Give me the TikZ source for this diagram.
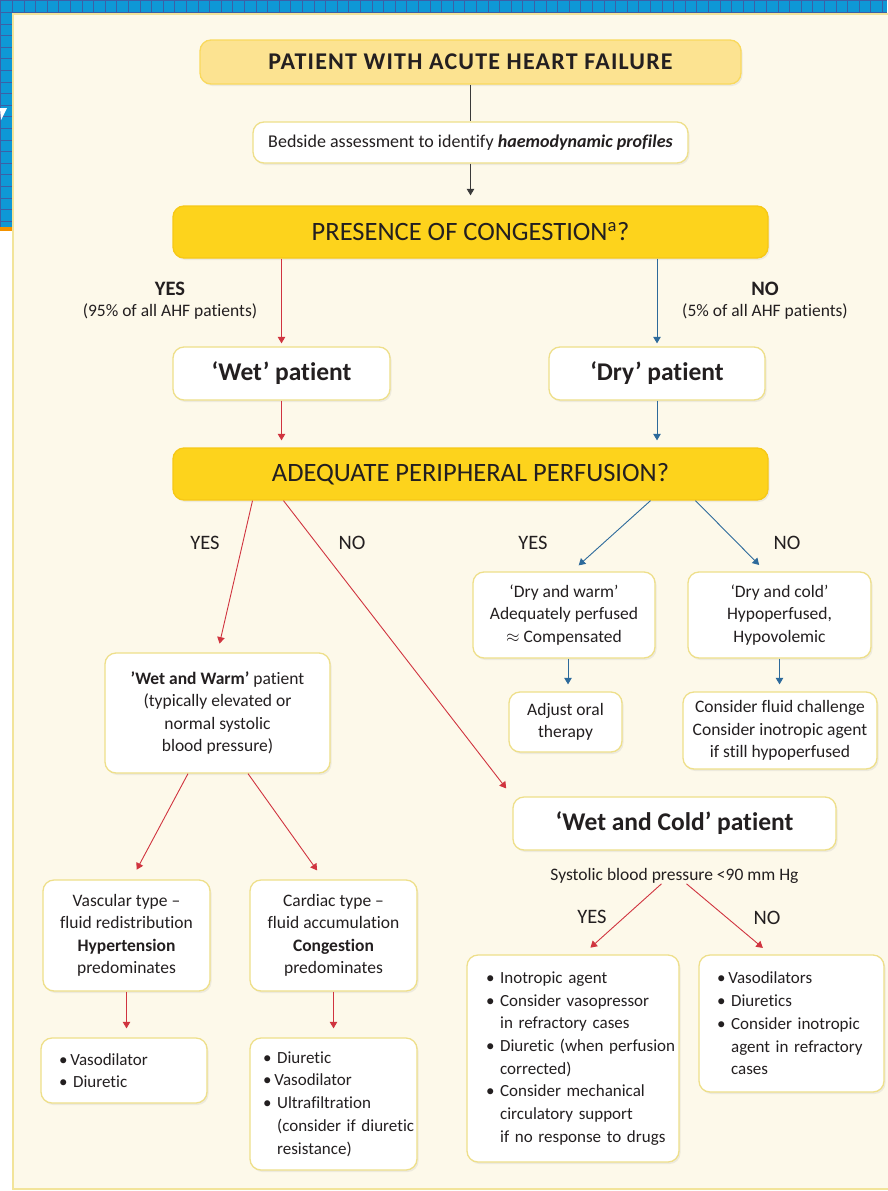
\documentclass[tikz,border=0pt]{standalone}
\usepackage{fontspec}
\setmainfont{Carlito}[RawFeature={-liga;-clig;-calt;-dlig}]
\usepackage{xcolor}
\usepackage{tikz}
\usetikzlibrary{positioning,arrows.meta,shadows,calc}

\definecolor{stripblue}{HTML}{0E98D6}
\definecolor{gridline}{HTML}{3C5FA6}
\definecolor{stripor}{HTML}{F39200}
\definecolor{panelbg}{HTML}{FDF9EA}
\definecolor{paneledge}{HTML}{F2E49A}
\definecolor{boxedge}{HTML}{EEDF8A}
\definecolor{lightgold}{HTML}{FCE391}
\definecolor{gold}{HTML}{FDD31C}
\definecolor{goldedge}{HTML}{F6C817}
\definecolor{redline}{HTML}{D0343F}
\definecolor{blueline}{HTML}{2D6A9B}
\definecolor{greyline}{HTML}{3A3A3A}
\definecolor{ink}{HTML}{231F20}

\newcommand{\fbody}{\fontsize{17.5}{22.5}\selectfont}
\newcommand{\flist}{\fontsize{17}{22.7}\selectfont}
\newcommand{\fhead}{\fontsize{24}{26}\selectfont\addfontfeatures{LetterSpace=5}}
\newcommand{\fquest}{\fontsize{26.5}{28}\selectfont}
\newcommand{\fpat}{\fontsize{25.5}{28}\selectfont}
\newcommand{\fyn}{\fontsize{20.5}{22}\selectfont}
\newcommand{\bl}[1]{\mbox{\textbullet\ #1}}
\newcommand{\cl}[1]{\mbox{\phantom{\textbullet\ }#1}}
\hfuzz=300pt
\hbadness=10000

\begin{document}
\begin{tikzpicture}[
    x=1pt, y=-1pt,
    box/.style={draw=boxedge, line width=1.3pt, rounded corners=11pt, fill=#1,
      align=center, inner sep=0pt, text=ink, font=\fbody,
      drop shadow={shadow xshift=1.5pt, shadow yshift=-2pt, opacity=0.12}},
    box/.default=white,
    question/.style={box=gold, draw=goldedge, font=\fquest,
      minimum width=595, minimum height=52},
    listbox/.style={box, align=left, font=\flist, inner xsep=18pt},
    label/.style={text=ink, font=\fyn, align=center, inner sep=0pt},
    redarr/.style={draw=redline, line width=0.9pt, -{Triangle[width=7.5pt,length=6.5pt]}},
    bluearr/.style={draw=blueline, line width=0.9pt, -{Triangle[width=7.5pt,length=6.5pt]}},
    greyarr/.style={draw=greyline, line width=0.9pt, -{Triangle[width=7.5pt,length=6.5pt]}},
  ]
  \useasboundingbox (0,0) rectangle (887,1191);

  % Blue strip with grid
  \fill[stripblue] (0,0) rectangle (887,227);
  \foreach \gx in {0,...,76} \draw[gridline, line width=0.6pt] ({0.6+11.6*\gx},0) -- ++(0,227);
  \foreach \gy in {0,...,19} \draw[gridline, line width=0.6pt] (0,{0.6+11.6*\gy}) -- ++(887,0);
  \fill[stripor] (0,227) rectangle (13,231);
  \fill[white] (0,231) rectangle (13,1191);
  \fill[white] (0,108) -- (7,108) -- (1,120) -- cycle;

  % Panel
  \draw[fill=panelbg, draw=paneledge, line width=1.5pt] (13,14) rectangle (889,1189);

  % Top of the chart
  \node[box=lightgold, draw=goldedge!70, minimum width=541, minimum height=44,
        font=\fhead\bfseries] (ahf) at (470.5,62) {PATIENT WITH ACUTE HEART FAILURE};
  \node[box, minimum width=435, minimum height=41, font=\fontsize{18}{22}\selectfont] (assess) at (470.5,142.5)
        {Bedside assessment to identify \textbf{\textit{haemodynamic profiles}}};
  \node[question] (cong) at (470.5,232) {PRESENCE OF CONGESTION\textsuperscript{a}?};

  \draw[draw=greyline, line width=0.9pt] (ahf) -- (assess);
  \draw[greyarr, shorten >=10pt] (assess) -- (cong);

  % Wet / dry
  \node[label] (yes1) at (170,301) {\textbf{YES}\\[-1pt]{\fbody(95\% of all AHF patients)}};
  \node[label] (no1) at (765,301) {\textbf{NO}\\[-1pt]{\fbody(5\% of all AHF patients)}};
  \node[box, minimum width=217, minimum height=53, font=\fpat\bfseries] (wet) at (281.5,373.5) {‘Wet’ patient};
  \node[box, minimum width=216, minimum height=53, font=\fpat\bfseries] (dry) at (657,373.5) {‘Dry’ patient};

  \draw[redarr, shorten >=3pt] (wet.north |- cong.south) -- (wet.north);
  \draw[bluearr, shorten >=3pt] (dry.north |- cong.south) -- (dry.north);

  \node[question] (perf) at (470.5,474) {ADEQUATE PERIPHERAL PERFUSION?};
  \draw[redarr, shorten >=7pt] (wet.south) -- (wet.south |- perf.north);
  \draw[bluearr, shorten >=7pt] (dry.south) -- (dry.south |- perf.north);

  % Second level
  \node[label] (yes2) at (205,543) {YES};
  \node[label] (no2) at (352,543) {NO};
  \node[label] (yes3) at (533,543) {YES};
  \node[label] (no3) at (787,543) {NO};

  \node[box, minimum width=225, minimum height=120] (wwarm) at (217.5,713)
        {\textbf{’Wet and Warm’} patient\\(typically elevated or\\normal systolic\\blood pressure)};
  \node[box, minimum width=182, minimum height=86] (dwarm) at (564,615)
        {‘Dry and warm’\\Adequately perfused\\$\approx$ Compensated};
  \node[box, minimum width=183, minimum height=86] (dcold) at (779.5,615)
        {‘Dry and cold’\\Hypoperfused,\\Hypovolemic};
  \node[box, minimum width=113, minimum height=60] (adjust) at (565.5,722)
        {Adjust oral\\therapy};
  \node[box, minimum width=194, minimum height=77] (fluid) at (780,730.5)
        {Consider fluid challenge\\Consider inotropic agent\\if still hypoperfused};
  \node[box, minimum width=323, minimum height=53, font=\fpat\bfseries] (wcold) at (674.5,823.5)
        {‘Wet and Cold’ patient};

  \draw[redarr, shorten >=9pt] ([xshift=-218pt]perf.south) -- (wwarm.north);
  \draw[redarr, shorten >=10pt] ([xshift=-187pt]perf.south) -- (wcold.north west);
  \draw[bluearr, shorten >=9pt] ([xshift=180pt]perf.south) -- ([xshift=8pt]dwarm.north);
  \draw[bluearr, shorten >=9pt] ([xshift=225pt]perf.south) -- ([xshift=-14pt]dcold.north);
  \draw[bluearr, shorten >=7pt] ([xshift=4pt]dwarm.south) -- ([xshift=4pt]dwarm.south |- adjust.north);
  \draw[bluearr, shorten >=7pt] (dcold.south) -- (dcold.south |- fluid.north);

  % Wet and warm branch
  \node[box, minimum width=167, minimum height=111] (vasc) at (126.5,935.5)
        {Vascular type --\\fluid redistribution\\\textbf{Hypertension}\\predominates};
  \node[box, minimum width=167, minimum height=111] (card) at (333.5,935.5)
        {Cardiac type --\\fluid accumulation\\\textbf{Congestion}\\predominates};
  \node[listbox, text width=130, minimum height=65] (vascrx) at (124,1070.5)
        {\mbox{\textbullet\,Vasodilator}\\\bl{Diuretic}};
  \node[listbox, inner xsep=13pt, text width=141, minimum height=132] (cardrx) at (333.5,1104)
        {\bl{Diuretic}\\\mbox{\textbullet\,Vasodilator}\\\bl{Ultrafiltration}\\\cl{(consider if diuretic}\\\cl{resistance)}};

  \draw[redarr, shorten >=11pt] ([xshift=-29.5pt]wwarm.south) -- ([xshift=5pt]vasc.north);
  \draw[redarr, shorten >=11pt] ([xshift=30.5pt]wwarm.south) -- ([xshift=-10pt]card.north);
  \draw[redarr, shorten >=9pt] (vasc.south) -- (vasc.south |- vascrx.north);
  \draw[redarr, shorten >=9pt] (card.south) -- (card.south |- cardrx.north);

  % Wet and cold branch
  \node[label, font=\fbody] (sbp) at (674.5,876) {Systolic blood pressure <90 mm Hg};
  \node[label] (yes4) at (592,917) {YES};
  \node[label] (no4) at (767,918) {NO};
  \node[listbox, inner xsep=19pt, text width=174, minimum height=207] (coldyes) at (573,1058.5)
        {\bl{Inotropic agent}\\\bl{Consider vasopressor}\\\cl{in refractory cases}\\\bl{Diuretic (when perfusion}\\\cl{corrected)}\\\bl{Consider mechanical}\\\cl{circulatory support}\\\cl{if no response to drugs}};
  \node[listbox, text width=149, minimum height=137] (coldno) at (791.5,1023.5)
        {\mbox{\textbullet\,Vasodilators}\\\bl{Diuretics}\\\bl{Consider inotropic}\\\cl{agent in refractory}\\\cl{cases}};

  \draw[redarr, shorten >=10pt] ([xshift=-13pt]sbp.south) -- ([xshift=10pt]coldyes.north);
  \draw[redarr, shorten >=10pt] ([xshift=12pt]sbp.south) -- ([xshift=-21pt]coldno.north);
\end{tikzpicture}
\end{document}
